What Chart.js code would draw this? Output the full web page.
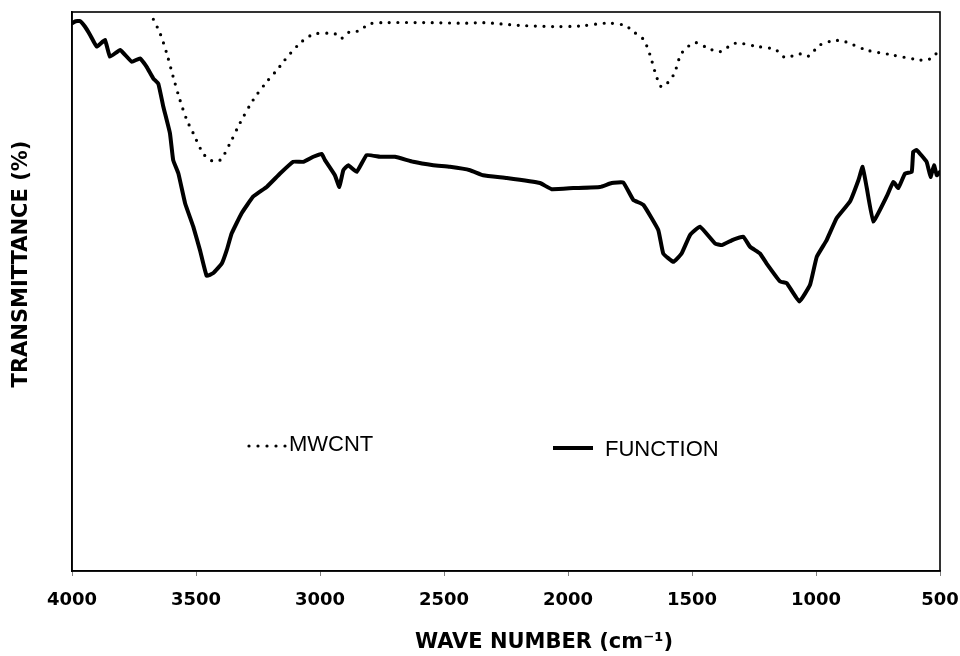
<!DOCTYPE html>
<html>
<head>
<meta charset="utf-8">
<script src="https://cdn.jsdelivr.net/npm/chart.js@4.4.1/dist/chart.umd.min.js"></script>
<style>
  html, body { margin: 0; padding: 0; background: #ffffff; }
  #wrap { position: relative; width: 960px; height: 656px; }
</style>
</head>
<body>
<div id="wrap"><canvas id="c" width="960" height="656"></canvas></div>
<script>
// ---- data ----
const xTickValues = [4000, 3500, 3000, 2500, 2000, 1500, 1000, 500];
const xTitle = 'WAVE NUMBER (cm\u207B\u00B9)';
const yTitle = 'TRANSMITTANCE (%)';
const seriesNames = ['MWCNT', 'FUNCTION'];

const functionWave = [3998, 3988, 3968, 3948, 3927, 3900, 3867, 3847, 3806, 3759, 3726, 3699, 3672, 3652, 3632, 3605, 3592, 3571, 3544, 3511, 3484, 3457, 3430, 3396, 3376, 3356, 3316, 3269, 3215, 3161, 3108, 3067, 3027, 2993, 2980, 2940, 2922, 2906, 2886, 2852, 2812, 2758, 2698, 2624, 2543, 2476, 2395, 2342, 2247, 2113, 2066, 1979, 1871, 1824, 1777, 1737, 1696, 1636, 1616, 1575, 1542, 1508, 1468, 1407, 1380, 1333, 1293, 1266, 1226, 1199, 1145, 1118, 1067, 1024, 997, 957, 917, 863, 829, 812, 796, 769, 715, 688, 668, 641, 614, 608, 594, 554, 538, 524, 513, 500];
const functionT = [98.0, 98.3, 98.4, 97.4, 95.9, 93.8, 95.0, 92.0, 93.2, 91.1, 91.7, 90.2, 88.1, 87.2, 83.1, 78.3, 73.5, 71.1, 65.8, 61.6, 57.4, 52.8, 53.3, 55.0, 57.4, 60.4, 64.0, 67.0, 68.7, 71.1, 73.2, 73.2, 74.1, 74.6, 73.5, 70.8, 68.7, 71.7, 72.6, 71.4, 74.4, 74.1, 74.1, 73.2, 72.6, 72.3, 71.7, 70.8, 70.3, 69.4, 68.3, 68.5, 68.7, 69.4, 69.5, 66.4, 65.5, 61.0, 56.8, 55.3, 56.8, 60.1, 61.6, 58.6, 58.3, 59.3, 59.8, 58.0, 56.8, 55.0, 51.8, 51.5, 48.2, 51.2, 56.2, 59.2, 63.1, 66.1, 69.9, 72.3, 68.7, 62.5, 67.0, 69.6, 68.5, 71.1, 71.4, 75.0, 75.3, 73.2, 70.5, 72.6, 70.8, 71.4];

const mwcntWave = [3672, 3645, 3618, 3592, 3565, 3537, 3511, 3471, 3437, 3403, 3363, 3323, 3269, 3215, 3168, 3148, 3081, 3027, 2960, 2933, 2913, 2879, 2846, 2798, 2731, 2583, 2408, 2342, 2194, 2059, 1952, 1844, 1770, 1737, 1696, 1669, 1649, 1622, 1575, 1542, 1488, 1434, 1387, 1327, 1233, 1165, 1125, 1065, 1031, 984, 923, 883, 796, 702, 594, 561, 527, 507];
const mwcntT = [98.7, 96.2, 92.6, 88.4, 84.3, 80.7, 78.3, 74.7, 73.4, 73.5, 76.5, 80.1, 84.3, 87.5, 89.9, 91.1, 94.4, 96.0, 96.2, 96.0, 95.3, 96.5, 96.6, 97.9, 98.1, 98.1, 98.0, 98.1, 97.6, 97.4, 97.5, 98.0, 97.6, 96.5, 95.1, 92.3, 89.3, 86.6, 88.7, 92.6, 94.5, 93.5, 92.9, 94.4, 93.8, 93.3, 91.9, 92.5, 92.1, 94.1, 94.9, 94.7, 93.2, 92.4, 91.5, 91.4, 91.9, 93.2];

const toPoints = (xs, ys) => xs.map((x, i) => ({ x: x, y: ys[i] }));

// ---- decorations: frame, titles, legend ----
const decor = {
  id: 'decor',
  afterDraw(chart) {
    const ctx = chart.ctx;
    const a = chart.chartArea;
    ctx.save();
    // frame
    ctx.strokeStyle = '#000';
    ctx.lineWidth = 1.6;
    ctx.strokeRect(a.left, a.top, a.right - a.left, a.bottom - a.top);
    // axis titles
    ctx.fillStyle = '#000';
    ctx.font = 'bold 21px "DejaVu Sans"';
    ctx.textAlign = 'center';
    ctx.textBaseline = 'middle';
    ctx.fillText(xTitle, 544, 643);
    ctx.save();
    ctx.translate(22, 264);
    ctx.rotate(-Math.PI / 2);
    ctx.fillText(yTitle, 0, 0);
    ctx.restore();
    // legend
    ctx.font = '22px "Liberation Sans"';
    ctx.textAlign = 'left';
    ctx.fillText(seriesNames[0], 289, 445);
    ctx.fillText(seriesNames[1], 605, 450);
    ctx.fillStyle = '#000';
    for (let i = 0; i < 5; i++) {
      ctx.beginPath();
      ctx.arc(249 + i * 9, 446, 1.6, 0, Math.PI * 2);
      ctx.fill();
    }
    ctx.beginPath();
    ctx.lineWidth = 4;
    ctx.lineCap = 'butt';
    ctx.moveTo(553, 448);
    ctx.lineTo(593, 448);
    ctx.stroke();
    ctx.restore();
  }
};

new Chart(document.getElementById('c'), {
  type: 'line',
  data: {
    datasets: [
      {
        label: seriesNames[0],
        data: toPoints(mwcntWave, mwcntT),
        borderColor: '#000',
        borderWidth: 3.2,
        borderDash: [0, 8.6],
        borderCapStyle: 'round',
        pointRadius: 0,
        tension: 0.3,
        fill: false
      },
      {
        label: seriesNames[1],
        data: toPoints(functionWave, functionT),
        borderColor: '#000',
        borderWidth: 4,
        borderJoinStyle: 'round',
        borderCapStyle: 'round',
        pointRadius: 0,
        tension: 0.1,
        fill: false
      }
    ]
  },
  options: {
    responsive: false,
    animation: false,
    layout: { padding: { left: 0, right: 20, top: 12, bottom: 0 } },
    plugins: { legend: { display: false }, tooltip: { enabled: false } },
    scales: {
      x: {
        type: 'linear',
        reverse: true,
        min: 500,
        max: 4000,
        afterBuildTicks: (s) => { s.ticks = xTickValues.map(v => ({ value: v })); },
        afterFit: (s) => { s.height = 85; s.paddingLeft = 0; s.paddingRight = 0; },
        ticks: {
          color: '#000',
          font: { family: 'DejaVu Sans', weight: 'bold', size: 18 },
          padding: 14,
          maxRotation: 0,
          autoSkip: false,
          callback: (v) => String(v)
        },
        grid: { display: true, drawOnChartArea: false, drawTicks: true, tickLength: 5, color: '#808080' },
        border: { display: true, color: '#000', width: 1.6 },
        title: { display: false }
      },
      y: {
        min: 0,
        max: 100,
        afterFit: (s) => { s.width = 72; },
        ticks: { display: false },
        grid: { display: false, drawTicks: false },
        border: { display: true, color: '#000', width: 1.6 },
        title: { display: false }
      }
    }
  },
  plugins: [decor]
});
</script>
</body>
</html>
